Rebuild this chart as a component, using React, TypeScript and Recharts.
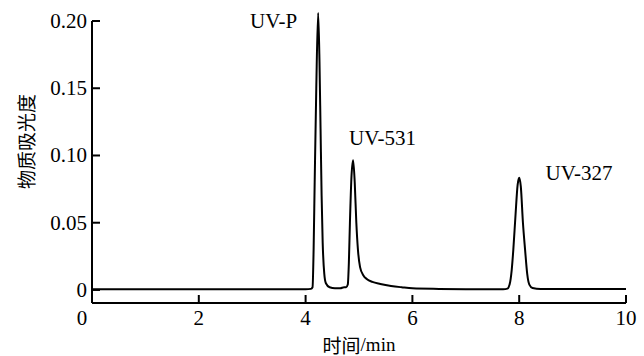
import { Line, LineChart, ReferenceDot, ReferenceLine, XAxis, YAxis } from "recharts";

// retention time (min)
const times = [
  0, 1, 2, 3, 3.8, 4.0, 4.1, 4.13, 4.15, 4.17, 4.2, 4.235, 4.26, 4.28, 4.3, 4.32,
  4.35, 4.38, 4.45, 4.55, 4.65, 4.72, 4.76, 4.79, 4.81, 4.83, 4.86, 4.89, 4.92,
  4.95, 4.98, 5.02, 5.08, 5.15, 5.25, 5.4, 5.6, 5.8, 6.0, 6.5, 7.0, 7.5, 7.7,
  7.78, 7.82, 7.86, 7.89, 7.93, 7.97, 8.0, 8.03, 8.07, 8.11, 8.15, 8.19, 8.25,
  8.4, 9.0, 10,
];

// absorbance
const absorbance = [
  0.0005, 0.0005, 0.0005, 0.0005, 0.0005, 0.0005, 0.0008, 0.002, 0.03, 0.08,
  0.15, 0.206, 0.17, 0.12, 0.07, 0.035, 0.012, 0.005, 0.002, 0.0013, 0.0013,
  0.002, 0.002, 0.004, 0.02, 0.05, 0.085, 0.0965, 0.08, 0.05, 0.03, 0.017,
  0.011, 0.008, 0.006, 0.0045, 0.003, 0.002, 0.0012, 0.0008, 0.0006, 0.0005,
  0.0005, 0.001, 0.004, 0.015, 0.03, 0.055, 0.078, 0.0834, 0.077, 0.05, 0.03,
  0.012, 0.004, 0.0015, 0.0008, 0.0007, 0.0007,
];

const xTicks = [0, 2, 4, 6, 8, 10];
const yTicks = [0, 0.05, 0.1, 0.15, 0.2];
const yTickLabels = ["0", "0.05", "0.10", "0.15", "0.20"];

const peakNames = ["UV-P", "UV-531", "UV-327"];
const peakLabelX = [3.4, 5.44, 9.12];
const peakLabelY = [0.2, 0.1134, 0.0873];

const Y_MIN = -0.0097;
const Y_MAX = 0.2067;

const serif = "'Liberation Serif', 'Times New Roman', serif";
const cjk = "'Noto Sans CJK SC', sans-serif";

const data = times.map((t, i) => ({ t, a: absorbance[i] }));

function YTick(props: any) {
  const { x, y, payload } = props;
  const idx = yTicks.indexOf(payload.value);
  return (
    <text
      x={x}
      y={y}
      dy={7}
      textAnchor="end"
      style={{ fontFamily: serif, fontSize: 21, fill: "#000" }}
    >
      {yTickLabels[idx]}
    </text>
  );
}

function XTick(props: any) {
  const { x, y, payload } = props;
  return (
    <text
      x={payload.value === 0 ? x - 10 : x}
      y={y}
      dy={17}
      textAnchor="middle"
      style={{ fontFamily: serif, fontSize: 21, fill: "#000" }}
    >
      {payload.value}
    </text>
  );
}

function YTitle(props: any) {
  const { viewBox } = props;
  const cy = viewBox.y + viewBox.height / 2 - 16;
  return (
    <text
      x={25}
      y={cy}
      transform={`rotate(-90 25 ${cy})`}
      textAnchor="middle"
      dominantBaseline="central"
      style={{ fontFamily: cjk, fontSize: 19, fill: "#000" }}
    >
      物质吸光度
    </text>
  );
}

function XTitle(props: any) {
  const { viewBox } = props;
  const cx = viewBox.x + viewBox.width / 2;
  return (
    <text
      x={cx}
      y={344}
      textAnchor="middle"
      dominantBaseline="central"
      style={{ fontFamily: serif, fontSize: 19, fill: "#000" }}
    >
      <tspan style={{ fontFamily: cjk }}>时间</tspan>/min
    </text>
  );
}

export default function App() {
  return (
    <div
      style={{
        position: "absolute",
        left: 0,
        top: 0,
        background: "#fff",
        fontFamily: serif,
      }}
    >
      <LineChart
        width={644}
        height={356}
        data={data}
        margin={{ top: 12, right: 18, left: 0, bottom: 0 }}
      >
        <XAxis
          dataKey="t"
          type="number"
          domain={[0, 10]}
          ticks={xTicks}
          tick={<XTick />}
          tickLine={{ stroke: "#000", strokeWidth: 2 }}
          tickSize={-8}
          tickMargin={13}
          height={53}
          axisLine={{ stroke: "#000", strokeWidth: 2 }}
          label={<XTitle />}
        />
        <YAxis
          type="number"
          domain={[Y_MIN, Y_MAX]}
          allowDataOverflow
          ticks={yTicks}
          tick={<YTick />}
          tickLine={{ stroke: "#000", strokeWidth: 2 }}
          tickSize={-8}
          tickMargin={13}
          width={92}
          axisLine={false}
          label={<YTitle />}
        />
        <ReferenceLine
          segment={[
            { x: 0, y: Y_MIN },
            { x: 0, y: 0.2 },
          ]}
          stroke="#000"
          strokeWidth={2}
        />
        <Line
          type="monotone"
          dataKey="a"
          stroke="#000"
          strokeWidth={2}
          dot={false}
          isAnimationActive={false}
        />
        {peakNames.map((name, i) => (
          <ReferenceDot
            key={name}
            x={peakLabelX[i]}
            y={peakLabelY[i]}
            r={0}
            stroke="none"
            label={{
              value: name,
              position: "center",
              fill: "#000",
              fontSize: 21,
              fontFamily: "Liberation Serif",
            }}
          />
        ))}
      </LineChart>
    </div>
  );
}
